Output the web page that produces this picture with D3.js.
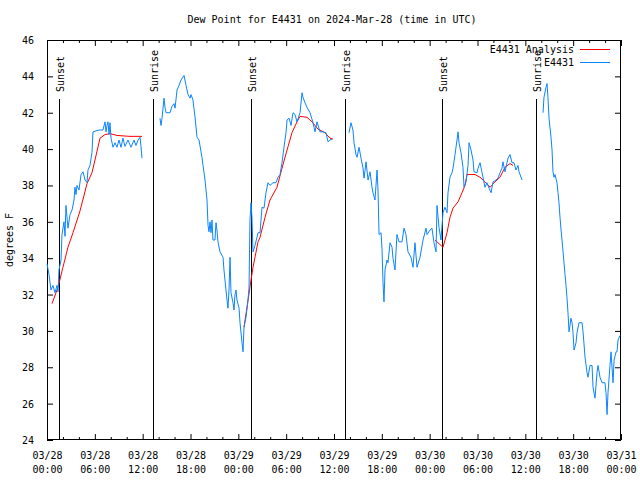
<!DOCTYPE html>
<html><head><meta charset="utf-8">
<script src="https://cdn.jsdelivr.net/npm/d3@7"></script>
<style>
body{margin:0;background:#fff;}
text{font-family:"DejaVu Sans Mono",monospace;font-size:10px;fill:#000;}
</style></head>
<body><svg id="c" width="640" height="480"></svg>
<script>
// ---- data (hours since 2024-03-28 00:00 UTC) ----
const obsHours = [0,0.25,0.5,0.75,1.0,1.25,1.38,1.5,1.76,1.88,2.13,2.26,2.38,2.63,2.89,3.14,3.39,3.51,3.64,3.76,4.01,4.27,4.52,4.77,5.02,5.14,5.39,5.64,5.77,6.14,6.52,7.02,7.28,7.4,7.53,7.65,7.78,7.9,8.03,8.28,8.53,8.78,9.03,9.28,9.53,9.78,10.16,10.54,10.91,11.16,11.42,11.67,11.79,11.92,
 13.0,
 14.17,14.3,14.43,14.68,14.8,14.93,15.18,15.43,15.68,15.93,16.06,16.31,16.56,16.81,17.19,17.44,17.69,17.94,18.06,18.31,18.57,18.82,19.07,19.32,19.44,19.57,19.82,20.07,20.2,20.32,20.45,20.57,20.7,20.82,21.07,21.2,21.32,21.45,21.7,22.08,22.2,22.45,22.58,22.7,22.83,22.96,23.08,23.33,23.46,23.58,23.71,23.83,24.09,24.21,24.46,24.59,24.71,24.96,25.21,25.34,25.46,25.59,25.71,25.84,26.09,26.34,26.47,26.72,26.97,27.22,27.47,27.72,27.97,28.35,28.72,28.98,29.23,29.48,29.73,29.98,30.11,30.36,30.61,30.86,31.11,31.36,31.74,31.99,32.11,32.36,32.61,32.99,33.37,33.62,33.87,34.24,34.62,35.0,35.25,35.5,35.75,
 36.8,
 37.88,38.13,38.38,38.51,38.76,38.89,39.14,39.39,39.64,39.77,40.02,40.27,40.52,40.77,40.89,41.14,41.4,41.52,41.65,41.9,42.02,42.15,42.27,42.4,42.65,42.77,43.03,43.28,43.4,43.65,43.9,44.15,44.53,44.78,45.03,45.28,45.66,45.91,46.16,46.41,46.79,47.17,47.54,47.67,48.04,48.29,48.54,48.8,48.92,49.17,49.42,49.67,49.92,50.18,50.3,50.55,50.8,50.93,51.18,51.43,51.56,51.68,51.93,52.18,52.31,52.56,52.81,52.94,53.19,53.44,53.56,53.94,54.07,54.32,54.57,54.69,54.94,55.19,55.45,55.7,55.95,56.32,56.57,56.82,57.07,57.2,57.45,57.7,57.83,58.08,58.33,58.58,58.83,59.08,59.21,59.59,
 61.0,
 62.22,62.34,62.59,62.72,62.84,62.97,63.22,63.35,63.47,63.6,63.72,63.97,64.1,64.22,64.35,64.48,64.6,64.73,64.85,64.98,65.1,65.23,65.35,65.48,65.73,65.86,65.98,66.11,66.36,66.48,66.73,67.11,67.24,67.49,67.74,67.86,68.11,68.37,68.49,68.74,68.99,69.12,69.37,69.62,69.99,70.12,70.25,70.37,70.62,70.75,71.0,71.13,71.38,71.5,71.63,71.88];
const obsDewF = [33.7,33.1,32.25,32.5,32.1,32.5,32.15,33.35,33.9,35.3,36.0,35.2,36.9,35.65,36.4,36.65,37.2,37.9,37.5,38.0,37.75,38.6,38.75,38.3,38.15,38.85,39.1,39.8,40.95,41.0,41.05,41.05,41.5,40.95,41.3,41.5,40.8,41.45,40.6,40.1,40.35,40.1,40.5,40.1,40.6,40.15,40.5,40.1,40.5,40.2,40.5,40.65,40.15,39.5,
 null,
 41.7,41.3,41.7,42.8,42.3,42.0,42.0,42.0,42.35,42.5,42.25,43.25,43.5,43.8,44.05,43.5,43.0,42.8,43.0,42.7,41.75,40.65,40.5,39.85,39.55,39.1,38.3,37.2,35.8,35.45,36.0,35.4,36.1,35.0,35.0,35.95,35.55,34.9,34.35,34.05,33.35,32.25,31.7,31.25,32.25,34.05,32.1,31.55,31.15,32.0,32.25,31.7,31.25,30.45,29.35,28.85,30.2,30.75,31.7,32.35,36.1,37.05,36.25,34.35,34.7,35.15,35.4,35.4,36.8,36.75,37.6,38.15,38.0,38.15,38.15,38.45,38.6,39.25,40.1,40.9,41.6,41.7,41.3,42.0,41.9,41.5,42.0,43.1,42.85,42.55,42.3,42.0,41.45,40.95,41.5,40.95,40.95,40.9,40.4,40.5,40.55,
 null,
 40.9,41.45,41.05,40.35,39.7,39.55,40.1,39.5,38.95,38.4,39.3,38.3,38.75,37.9,37.6,37.2,38.85,37.75,35.3,35.4,34.55,32.65,31.6,33.35,33.9,33.75,34.85,34.6,34.0,33.35,35.3,34.9,34.9,35.65,35.3,34.35,34.05,33.5,34.85,33.5,34.05,35.0,35.65,35.3,35.55,35.65,34.85,34.35,36.9,35.7,35.0,36.5,36.8,36.5,37.6,38.45,38.7,38.95,39.7,40.5,40.95,40.35,39.8,39.0,37.9,38.2,39.1,40.35,39.95,39.4,38.75,38.7,38.95,39.25,38.7,38.45,37.9,38.15,37.85,37.6,38.2,38.3,38.4,38.7,38.95,39.3,38.75,39.25,39.5,39.7,39.25,39.25,38.85,39.1,38.75,38.3,
 null,
 42.0,42.85,43.4,43.6,42.85,41.7,40.65,39.95,38.75,38.45,38.6,38.15,37.6,37.05,36.25,35.55,35.0,34.35,33.75,33.1,32.5,31.8,31.0,29.95,30.7,30.45,29.9,28.95,29.35,29.9,30.45,30.45,29.95,28.55,27.7,27.45,28.1,28.1,26.9,26.3,27.7,28.1,27.45,27.15,27.15,26.6,25.4,26.6,28.1,28.85,27.15,28.4,28.85,28.85,29.5,29.75];

const anaHours = [0.63,1.38,2.0,2.63,3.26,4.14,5.02,5.64,6.02,6.65,7.28,7.9,8.78,10.41,11.92,
 18.0,
 24.71,25.09,25.59,25.84,26.09,26.47,26.72,27.35,27.97,28.85,29.48,30.11,30.73,31.36,31.74,32.61,33.24,33.99,34.87,35.5,35.88,
 42.0,
 48.67,49.67,50.18,50.55,50.93,51.56,52.06,52.43,52.69,53.69,54.32,54.94,55.57,56.19,56.82,57.45,58.08,58.46];
const anaDewF = [31.5,32.4,33.5,34.6,35.4,36.6,38.1,38.7,39.4,40.6,40.8,40.85,40.75,40.7,40.7,
 null,
 30.2,31.3,32.8,33.5,34.05,34.9,35.15,36.25,37.2,37.9,38.95,39.95,40.9,41.5,41.8,41.75,41.5,41.1,40.9,40.6,40.55,
 null,
 35.0,34.6,35.4,36.25,36.75,37.1,37.6,38.0,38.6,38.6,38.45,38.2,37.9,38.2,38.45,39.0,39.2,39.1];

const sunHours = [1.57,13.36,25.65,37.38,49.67,61.46];
const sunLabels = ["Sunset","Sunrise","Sunset","Sunrise","Sunset","Sunrise"];
const yTicks = [24,26,28,30,32,34,36,38,40,42,44,46];
const xTickHours = [0,6,12,18,24,30,36,42,48,54,60,66,72];
const seriesNames = ["E4431 Analysis","E4431"];
const seriesColors = ["#ff0000","#0a84ff"];
const titleText = "Dew Point for E4431 on 2024-Mar-28 (time in UTC)";
const yLabel = "degrees F";

// ---- drawing ----
const t0 = Date.UTC(2024,2,28,0,0);
const toDate = h => new Date(t0 + h*3600000);
const L=47,R=621,T=40,B=440;
const svg = d3.select("#c");
const x = d3.scaleUtc().domain([toDate(0),toDate(72)]).range([L,R]);
const y = d3.scaleLinear().domain([24,46]).range([B,T]);

svg.append("text").attr("x",332).attr("y",23).attr("text-anchor","middle").text(titleText);
svg.append("text").attr("transform","translate(13,240) rotate(-90)").attr("text-anchor","middle").text(yLabel);

const fmtD = d3.utcFormat("%m/%d"), fmtT = d3.utcFormat("%H:%M");
const minor = d3.range(0,73,2).filter(h=>h%6!==0).map(toDate);
const major = xTickHours.map(toDate);

// bottom axis (ticks inward)
const gB = svg.append("g").attr("transform",`translate(0,${B})`)
  .call(d3.axisBottom(x).tickValues(major).tickSizeInner(-6).tickSizeOuter(0).tickFormat(""));
gB.select(".domain").remove();
gB.selectAll(".tick").each(function(d){
  const t = d3.select(this).append("text").attr("fill","#000").attr("text-anchor","middle").attr("y",19);
  t.append("tspan").attr("x",0).text(fmtD(d));
  t.append("tspan").attr("x",0).attr("dy",14).text(fmtT(d));
});
svg.append("g").attr("transform",`translate(0,${B})`)
  .call(d3.axisBottom(x).tickValues(minor).tickSizeInner(-3).tickSizeOuter(0).tickFormat(""))
  .select(".domain").remove();
// top axis
svg.append("g").attr("transform",`translate(0,${T})`)
  .call(d3.axisTop(x).tickValues(major).tickSizeInner(-6).tickSizeOuter(0).tickFormat(""))
  .select(".domain").remove();
svg.append("g").attr("transform",`translate(0,${T})`)
  .call(d3.axisTop(x).tickValues(minor).tickSizeInner(-3).tickSizeOuter(0).tickFormat(""))
  .select(".domain").remove();
// left / right axes
const gL = svg.append("g").attr("transform",`translate(${L},0)`)
  .call(d3.axisLeft(y).tickValues(yTicks).tickSizeInner(-6).tickSizeOuter(0).tickPadding(13).tickFormat(d3.format("d")));
gL.select(".domain").remove();
gL.selectAll("text").attr("font-family","DejaVu Sans Mono").attr("font-size",10).attr("dy","0.35em");
svg.append("g").attr("transform",`translate(${R},0)`)
  .call(d3.axisRight(y).tickValues(yTicks).tickSizeInner(-6).tickSizeOuter(0).tickFormat(""))
  .select(".domain").remove();
svg.selectAll(".tick line").attr("stroke","#000");

// border
svg.append("rect").attr("x",L+0.5).attr("y",T+0.5).attr("width",R-L-1).attr("height",B-T-1)
  .attr("fill","none").attr("stroke","#000");

// sunrise/sunset
sunHours.forEach((h,i)=>{
  const xx = Math.floor(x(toDate(h)))+0.5;
  svg.append("line").attr("x1",xx).attr("x2",xx).attr("y1",99).attr("y2",B).attr("stroke","#000");
  svg.append("text").attr("transform",`translate(${xx+4.5},92) rotate(-90)`).attr("text-anchor","start")
    .text(sunLabels[i]);
});

const line = d3.line().defined(d=>d[1]!==null).x(d=>x(toDate(d[0]))).y(d=>y(d[1]));
const anaPts = anaHours.map((h,i)=>[h,anaDewF[i]]);
const obsPts = obsHours.map((h,i)=>[h,obsDewF[i]]);
svg.append("path").attr("d",line(anaPts)).attr("fill","none").attr("stroke",seriesColors[0]).attr("stroke-width",1);
svg.append("path").attr("d",line(obsPts)).attr("fill","none").attr("stroke",seriesColors[1]).attr("stroke-width",1);

// legend
seriesNames.forEach((n,i)=>{
  const yy = 49 + i*13;
  svg.append("text").attr("x",574).attr("y",yy).attr("dy","0.35em").attr("text-anchor","end").text(n);
  svg.append("line").attr("x1",580).attr("x2",610).attr("y1",yy+0.5).attr("y2",yy+0.5).attr("stroke",seriesColors[i]);
});
</script></body></html>
